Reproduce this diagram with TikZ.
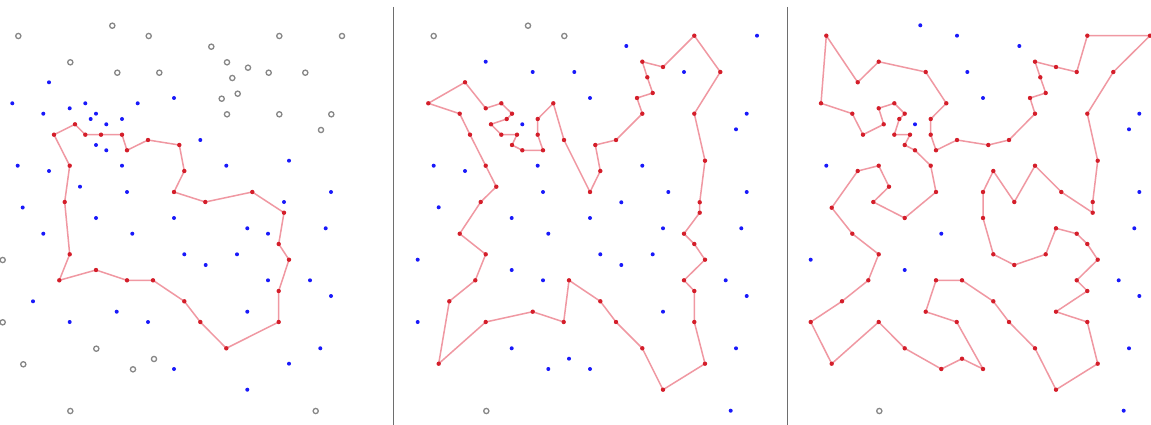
\documentclass[tikz,border=0pt]{standalone}
\definecolor{lred}{RGB}{240,152,162}
\definecolor{dred}{RGB}{212,30,42}
\definecolor{bdot}{RGB}{25,25,250}
\definecolor{gring}{RGB}{135,135,135}
\definecolor{divc}{RGB}{110,110,110}
\begin{document}
\begin{tikzpicture}[x=1pt,y=-1pt,
  redline/.style={lred,line width=1.5pt,line join=round},
  reddot/.style={fill=dred},
  bluedot/.style={fill=bdot},
  grayring/.style={draw=gring,line width=1.3pt},
  divider/.style={divc,line width=1.8pt}]
\useasboundingbox (0,0) rectangle (1151,425);
\fill[white] (0,0) rectangle (1151,425);
% dividers
\draw[divider] (393.5,7) -- (393.5,425);
\draw[divider] (787.5,7) -- (787.5,425);

% ---------- panel 1 ----------
\def\redA{(85.3,134.7),(101,134.7),(122,134.7),(127,150.3),(148,140),(179.3,145),(184.3,171),(174,192),(205.3,202),(252.3,192),(284,212.7),(278.7,244),(289,259.7),(278.7,291),(278.7,322),(226.3,348.3),(200.3,322),(184.3,301.3),(153,280.3),(127,280.3),(96,270),(59.3,280.3),(69.7,254.3),(64.7,202),(69.7,165.7),(54,134.7)}
\draw[redline] (75,124.3) \foreach \p in \redA { -- \p } -- cycle;
\fill[reddot] (75,124.3) circle (2.2);
\foreach \p in \redA \fill[reddot] \p circle (2.2);
\foreach \p in {(49,82.3),(12.3,103.3),(85.3,103.3),(137.7,103.3),(174,98),(43.3,113.7),(69.7,108.3),(96,113.7),(90.7,119),(122,119),(106.3,124.3),(96,145),(106.3,150.3),(200.3,140),(17.7,165.7),(49,171),(122,165.7),(80,186.7),(127,192),(22.7,207.5),(226.3,165.7),(289,160.7),(331,192),(284,202),(96,218),(174,218),(43.3,233.7),(132.3,233.7),(184.3,254.3),(33,301.3),(116.7,311.7),(69.7,322),(148,322),(174,369),(247.3,228.3),(268,233.7),(325.7,228.3),(237,254.3),(205.7,265),(268,280.3),(310,280.3),(331,296),(247.3,311.7),(320.3,348.3),(289,363.7),(247.3,389.7)}
  \fill[bluedot] \p circle (2);
\foreach \p in {(112.3,25.7),(18.3,36),(148.7,36),(70.3,62.3),(117.3,72.7),(159.3,72.7),(279.3,36),(342,36),(211.3,46.7),(227,62.3),(248,67.7),(268.7,72.7),(305.3,72.7),(232.3,78),(237.7,93.7),(221.7,98.7),(227,114.3),(279.3,114.3),(331.3,114.3),(321,130),(2.7,260),(2.7,322.3),(96.3,348.7),(23.3,364.3),(154,359),(133,369.3),(70.3,411),(315.7,411)}
  \draw[grayring] \p circle (2.6);

% ---------- panel 2 ----------
\def\redB{(465,82.3),(485.7,108.3),(501.3,103.3),(512,113.7),(506.7,119),(491,124.3),(501.3,134.7),(517,134.7),(512,145),(522.3,150.3),(543,150.3),(537.7,134.7),(537.7,119),(553.3,103.3),(564,140),(590,192),(600.3,171),(595.3,145),(616,140),(642.3,113.7),(637,98),(652.7,93),(647.3,77.3),(642.3,61.7),(663,67),(694.3,35.7),(720.3,72),(694.3,113.7),(705,160.7),(699.7,202.3),(699.7,212.7),(684,233.7),(694.3,244),(705,259.7),(684,280.3),(694.3,291),(694.3,322),(705,363.7),(663,389.7),(642.3,348.3),(616,322),(600.3,301.3),(569,280.3),(563.7,322),(532.7,311.7),(485.7,322),(438.7,363.7),(449.3,301.3),(475.3,280.3),(485.7,254.3),(459.7,233.7),(480.7,202),(496.3,186.7),(485.7,165.7),(470,134.7),(459.7,113.7)}
\draw[redline] (428.3,103.3) \foreach \p in \redB { -- \p } -- cycle;
\fill[reddot] (428.3,103.3) circle (2.2);
\foreach \p in \redB \fill[reddot] \p circle (2.2);
\foreach \p in {(485.7,61.7),(532.7,72),(574.3,72),(590,98),(626.3,46),(757,35.7),(684,72),(522.3,124.3),(433.7,165.7),(465,171),(537.7,165.7),(543,192),(438.7,207.3),(746.7,113.7),(736,129.3),(642.3,165.7),(668.3,192),(746.7,192),(621.3,202.3),(590,218),(511.7,218),(548.3,233.7),(417.7,259.7),(511.7,270),(543,280.3),(417.7,322),(511.7,348.3),(569,358.7),(548.3,369),(590,369),(663,228.3),(741.3,228.3),(600.3,254.3),(621.3,265),(652.7,254.3),(725.7,280.3),(746.7,296),(663,311.7),(736,348.3),(730.7,410.7)}
  \fill[bluedot] \p circle (2);
\foreach \p in {(433.7,36),(528,25.7),(564.3,36),(486.3,411)}
  \draw[grayring] \p circle (2.6);

% ---------- panel 3 ----------
\def\redC{(857.7,82.3),(878.7,61.7),(925.7,72),(946.3,103.3),(930.7,119),(930.7,134.7),(936,150.3),(957,140),(988.3,145),(1009,140),(1035,113.7),(1030,98),(1045.7,93),(1040.3,77.3),(1035,61.7),(1056,67),(1076.7,72),(1087.3,35.7),(1150,35.7),(1113.3,72),(1087.3,113.7),(1097.7,160.7),(1092.7,202),(1092.7,212.7),(1061.3,192),(1035,165.7),(1014.3,202),(993.3,171),(983,192),(983,218),(993.3,254.3),(1014.3,265),(1045.7,254.3),(1056,228.3),(1076.7,233.7),(1087.3,244),(1097.7,259.7),(1076.7,280.3),(1087.3,291),(1056,311.7),(1087.3,322),(1097.7,363.7),(1056,389.7),(1035,348.3),(1009,322),(993.3,301.3),(962,280.3),(936,280.3),(925.7,311.7),(956.7,322),(983,369),(962,358.7),(941.3,369),(904.7,348.3),(878.7,322),(831.7,363.7),(810.7,322),(842,301.3),(868.3,280.3),(878.7,254.3),(852.3,233.7),(831.7,207.7),(857.7,171),(878.7,165.7),(889,186.7),(873.3,202),(904.7,218),(936,192),(930.7,165.7),(915,150.3),(904.7,145),(910,134.7),(894.3,134.7),(899.3,119),(904.7,113.7),(894.3,103.3),(878.7,108.3),(883.7,124.3),(863,134.7),(852.3,113.7),(821,103.3)}
\draw[redline] (826.3,35.7) \foreach \p in \redC { -- \p } -- cycle;
\fill[reddot] (826.3,35.7) circle (2.2);
\foreach \p in \redC \fill[reddot] \p circle (2.2);
\foreach \p in {(920.3,25.3),(957,35.7),(967.3,72),(1019.3,46),(983,98),(915,124.3),(826.3,165.7),(1139.3,113.7),(1129,129.3),(1139.3,192),(810.7,259.7),(941.3,233.7),(904.7,270),(1134.3,228.3),(1118.7,280.3),(1139.3,296),(1129,348.3),(1123.7,410.7)}
  \fill[bluedot] \p circle (2);
\foreach \p in {(879.3,411)}
  \draw[grayring] \p circle (2.6);
\end{tikzpicture}
\end{document}
